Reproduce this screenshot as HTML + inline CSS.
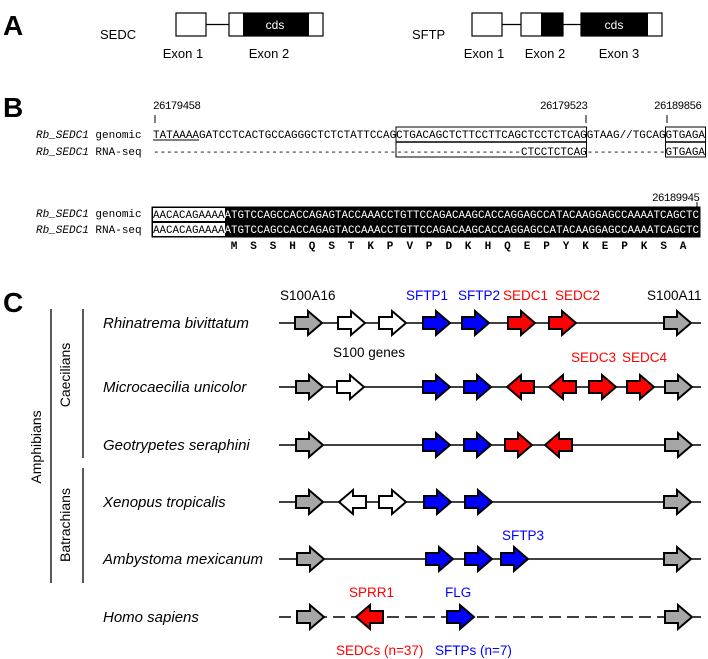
<!DOCTYPE html>
<html><head><meta charset="utf-8"><style>
html,body{margin:0;padding:0;background:#fff;}
svg{display:block;}
.cal{font-family:"Liberation Sans",sans-serif;}
.mono{font-family:"Liberation Mono",monospace;font-size:11px;}
</style></head><body>
<svg width="708" height="659" viewBox="0 0 708 659" xmlns="http://www.w3.org/2000/svg">
<defs>
<g id="ar"><path d="M0,-6 H13 V-12 L27,0 L13,12 V6 H0 Z" stroke="#000" stroke-width="2"/></g>
</defs>
<!-- Panel A -->
<text x="3" y="35" class="cal" font-size="28" font-weight="bold">A</text>
<text x="100" y="39" class="cal" font-size="13">SEDC</text>
<rect x="176" y="13" width="30" height="23" fill="#fff" stroke="#000" stroke-width="1.2"/>
<line x1="206" y1="24.5" x2="229" y2="24.5" stroke="#000" stroke-width="1.2"/>
<rect x="229" y="13" width="94" height="23" fill="#fff" stroke="#000" stroke-width="1.2"/>
<rect x="243" y="13" width="66" height="23" fill="#000"/>
<text x="275" y="29" class="cal" font-size="12" fill="#fff" text-anchor="middle">cds</text>
<text x="183" y="58" class="cal" font-size="13" text-anchor="middle">Exon 1</text>
<text x="269" y="58" class="cal" font-size="13" text-anchor="middle">Exon 2</text>
<text x="412" y="39" class="cal" font-size="13">SFTP</text>
<rect x="472" y="13" width="30" height="23" fill="#fff" stroke="#000" stroke-width="1.2"/>
<line x1="502" y1="24.5" x2="521" y2="24.5" stroke="#000" stroke-width="1.2"/>
<rect x="521" y="13" width="42" height="23" fill="#fff" stroke="#000" stroke-width="1.2"/>
<rect x="541" y="13" width="22" height="23" fill="#000"/>
<line x1="563" y1="24.5" x2="581" y2="24.5" stroke="#000" stroke-width="1.2"/>
<rect x="581" y="13" width="81" height="23" fill="#fff" stroke="#000" stroke-width="1.2"/>
<rect x="581" y="13" width="67" height="23" fill="#000"/>
<text x="614" y="29" class="cal" font-size="12" fill="#fff" text-anchor="middle">cds</text>
<text x="484" y="58" class="cal" font-size="13" text-anchor="middle">Exon 1</text>
<text x="545" y="58" class="cal" font-size="13" text-anchor="middle">Exon 2</text>
<text x="619" y="58" class="cal" font-size="13" text-anchor="middle">Exon 3</text>

<!-- Panel B -->
<text x="3" y="117" class="cal" font-size="28" font-weight="bold">B</text>
<text x="153" y="109" class="mono" textLength="48">26179458</text>
<text x="540" y="109" class="mono" textLength="48">26179523</text>
<text x="654" y="109" class="mono" textLength="48">26189856</text>
<line x1="155" y1="115" x2="155" y2="123" stroke="#000"/>
<line x1="586" y1="115" x2="586" y2="123" stroke="#000"/>
<line x1="667" y1="115" x2="667" y2="123" stroke="#000"/>
<text x="36" y="138" class="mono"><tspan font-style="italic">Rb_SEDC1</tspan> genomic</text>
<text x="36" y="155" class="mono"><tspan font-style="italic">Rb_SEDC1</tspan> RNA-seq</text>
<rect x="396" y="127" width="190.5" height="30" fill="none" stroke="#000" stroke-width="1"/>
<line x1="396" y1="142" x2="586.5" y2="142" stroke="#000" stroke-width="1.5"/>
<rect x="665.5" y="127" width="40" height="30" fill="none" stroke="#000" stroke-width="1"/>
<line x1="665.5" y1="142" x2="705.5" y2="142" stroke="#000" stroke-width="1.5"/>
<text x="153" y="138" class="mono" textLength="552" lengthAdjust="spacingAndGlyphs">TATAAAAGATCCTCACTGCCAGGGCTCTCTATTCCAGCTGACAGCTCTTCCTTCAGCTCCTCTCAGGTAAG//TGCAGGTGAGA</text>
<line x1="153" y1="140" x2="199" y2="140" stroke="#000"/>
<text x="153" y="155" class="mono" textLength="552" lengthAdjust="spacingAndGlyphs">--------------------------------------------------------CTCCTCTCAG------------GTGAGA</text>

<text x="652" y="201" class="mono" textLength="48">26189945</text>
<line x1="697" y1="202" x2="697" y2="207" stroke="#000"/>
<text x="36" y="217" class="mono"><tspan font-style="italic">Rb_SEDC1</tspan> genomic</text>
<text x="36" y="233" class="mono"><tspan font-style="italic">Rb_SEDC1</tspan> RNA-seq</text>
<rect x="152" y="207" width="548" height="30" fill="#000" stroke="#000"/>
<rect x="153" y="208" width="72" height="13" fill="#fff"/>
<rect x="153" y="223" width="72" height="13" fill="#fff"/>
<text x="153" y="218" class="mono" textLength="546" lengthAdjust="spacingAndGlyphs"><tspan fill="#000">AACACAGAAAA</tspan><tspan fill="#fff">ATGTCCAGCCACCAGAGTACCAAACCTGTTCCAGACAAGCACCAGGAGCCATACAAGGAGCCAAAATCAGCTC</tspan></text>
<text x="153" y="233" class="mono" textLength="546" lengthAdjust="spacingAndGlyphs"><tspan fill="#000">AACACAGAAAA</tspan><tspan fill="#fff">ATGTCCAGCCACCAGAGTACCAAACCTGTTCCAGACAAGCACCAGGAGCCATACAAGGAGCCAAAATCAGCTC</tspan></text>
<g class="mono" text-anchor="middle" font-weight="bold" font-size="11">
<text x="234" y="249">M</text><text x="253.5" y="249">S</text><text x="273" y="249">S</text><text x="292.6" y="249">H</text><text x="312" y="249">Q</text><text x="331.7" y="249">S</text><text x="351" y="249">T</text><text x="370.7" y="249">K</text><text x="390" y="249">P</text><text x="409.8" y="249">V</text><text x="429" y="249">P</text><text x="448.8" y="249">D</text><text x="468" y="249">K</text><text x="487.9" y="249">H</text><text x="507.4" y="249">Q</text><text x="527" y="249">E</text><text x="546.5" y="249">P</text><text x="566" y="249">Y</text><text x="585.5" y="249">K</text><text x="605" y="249">E</text><text x="624.6" y="249">P</text><text x="644" y="249">K</text><text x="663.7" y="249">S</text><text x="683" y="249">A</text>
</g>

<!-- Panel C -->
<text x="3" y="312" class="cal" font-size="28" font-weight="bold">C</text>
<g class="cal" font-size="13.5">
<text x="280" y="300">S100A16</text>
<text x="406" y="300" fill="#00f">SFTP1</text>
<text x="458" y="300" fill="#00f">SFTP2</text>
<text x="503" y="300" fill="#f00">SEDC1</text>
<text x="555" y="300" fill="#f00">SEDC2</text>
<text x="647" y="300">S100A11</text>
<text x="333" y="357">S100 genes</text>
<text x="571" y="362" fill="#f00">SEDC3</text>
<text x="622" y="362" fill="#f00">SEDC4</text>
<text x="502" y="540" fill="#00f">SFTP3</text>
<text x="349" y="597" fill="#f00">SPRR1</text>
<text x="445" y="597" fill="#00f">FLG</text>
<text x="336" y="655" fill="#f00">SEDCs (n=37)</text>
<text x="435" y="655" fill="#00f">SFTPs (n=7)</text>
</g>
<g class="cal" font-size="15" font-style="italic">
<text x="103" y="328">Rhinatrema bivittatum</text>
<text x="103" y="392">Microcaecilia unicolor</text>
<text x="103" y="450">Geotrypetes seraphini</text>
<text x="103" y="507">Xenopus tropicalis</text>
<text x="103" y="564">Ambystoma mexicanum</text>
<text x="103" y="622">Homo sapiens</text>
</g>
<line x1="51" y1="309" x2="51" y2="583" stroke="#000" stroke-width="1.3"/>
<line x1="83" y1="309" x2="83" y2="458" stroke="#000" stroke-width="1.3"/>
<line x1="83" y1="468" x2="83" y2="583" stroke="#000" stroke-width="1.3"/>
<text class="cal" font-size="14" text-anchor="middle" transform="translate(41,447) rotate(-90)">Amphibians</text>
<text class="cal" font-size="14" text-anchor="middle" transform="translate(70,375) rotate(-90)">Caecilians</text>
<text class="cal" font-size="14" text-anchor="middle" transform="translate(70,525) rotate(-90)">Batrachians</text>

<g stroke="#000" stroke-width="1.5">
<line x1="279" y1="323" x2="701" y2="323"/>
<line x1="279" y1="387" x2="701" y2="387"/>
<line x1="279" y1="445" x2="701" y2="445"/>
<line x1="279" y1="502" x2="701" y2="502"/>
<line x1="279" y1="559" x2="701" y2="559"/>
<line x1="279" y1="617" x2="701" y2="617" stroke-dasharray="12,6"/>
</g>
<!-- row 1 -->
<use href="#ar" x="295" y="323" fill="#a6a6a6"/>
<use href="#ar" x="338" y="323" fill="#fff"/>
<use href="#ar" x="379" y="323" fill="#fff"/>
<use href="#ar" x="423" y="323" fill="#00f"/>
<use href="#ar" x="462" y="323" fill="#00f"/>
<use href="#ar" x="508" y="323" fill="#f00"/>
<use href="#ar" x="549" y="323" fill="#f00"/>
<use href="#ar" x="664" y="323" fill="#a6a6a6"/>
<!-- row 2 -->
<use href="#ar" x="296" y="387" fill="#a6a6a6"/>
<use href="#ar" x="337" y="387" fill="#fff"/>
<use href="#ar" x="423" y="387" fill="#00f"/>
<use href="#ar" x="464" y="387" fill="#00f"/>
<use href="#ar" transform="translate(534,387) scale(-1,1)" fill="#f00"/>
<use href="#ar" transform="translate(576,387) scale(-1,1)" fill="#f00"/>
<use href="#ar" x="589" y="387" fill="#f00"/>
<use href="#ar" x="627" y="387" fill="#f00"/>
<use href="#ar" x="665" y="387" fill="#a6a6a6"/>
<!-- row 3 -->
<use href="#ar" x="296" y="445" fill="#a6a6a6"/>
<use href="#ar" x="423" y="445" fill="#00f"/>
<use href="#ar" x="464" y="445" fill="#00f"/>
<use href="#ar" x="505" y="445" fill="#f00"/>
<use href="#ar" transform="translate(572,445) scale(-1,1)" fill="#f00"/>
<use href="#ar" x="665" y="445" fill="#a6a6a6"/>
<!-- Xenopus -->
<use href="#ar" x="296" y="502" fill="#a6a6a6"/>
<use href="#ar" transform="translate(366,502) scale(-1,1)" fill="#fff"/>
<use href="#ar" x="379" y="502" fill="#fff"/>
<use href="#ar" x="424" y="502" fill="#00f"/>
<use href="#ar" x="465" y="502" fill="#00f"/>
<use href="#ar" x="664" y="502" fill="#a6a6a6"/>
<!-- Ambystoma -->
<use href="#ar" x="297" y="559" fill="#a6a6a6"/>
<use href="#ar" x="426" y="559" fill="#00f"/>
<use href="#ar" x="465" y="559" fill="#00f"/>
<use href="#ar" x="501" y="559" fill="#00f"/>
<use href="#ar" x="664" y="559" fill="#a6a6a6"/>
<!-- Homo -->
<use href="#ar" x="297" y="617" fill="#a6a6a6"/>
<use href="#ar" transform="translate(383,617) scale(-1,1)" fill="#f00"/>
<use href="#ar" x="447" y="617" fill="#00f"/>
<use href="#ar" x="665" y="617" fill="#a6a6a6"/>
</svg>
</body></html>
